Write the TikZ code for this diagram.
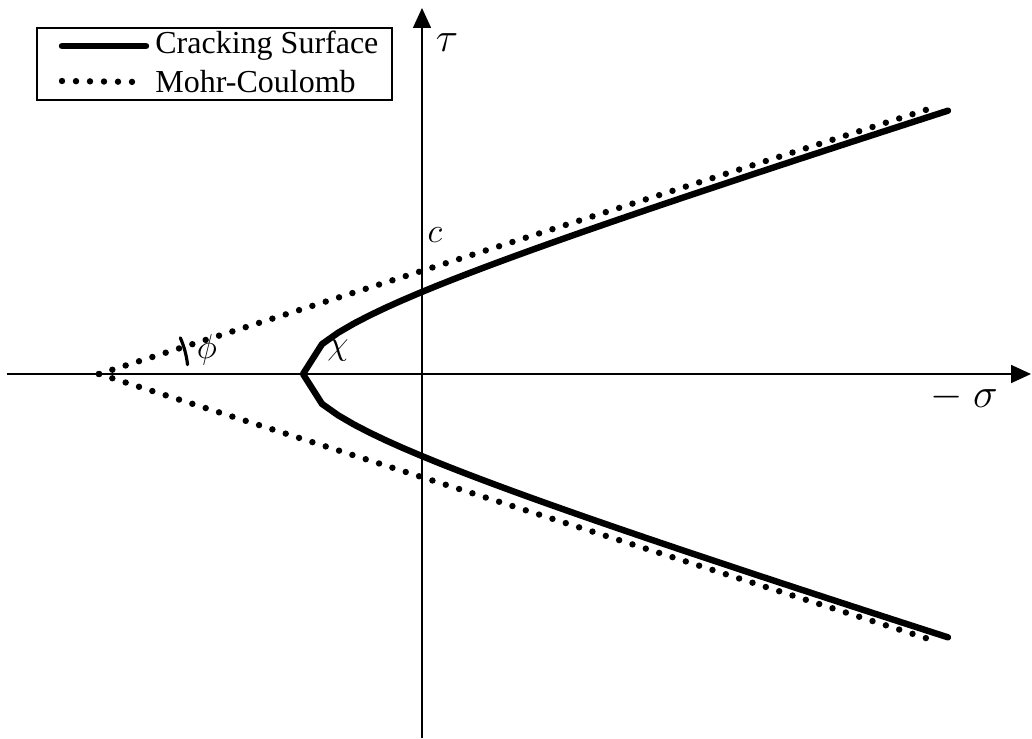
\documentclass[tikz,border=0pt]{standalone}
\usepackage{fontspec}
\setmainfont{Liberation Serif}
\usetikzlibrary{arrows.meta, positioning, calc}

\begin{document}
\begin{tikzpicture}[
  x=0.5pt, y=-0.5pt,
  font=\fontsize{16}{19}\selectfont,
  axis/.style={line width=0.8pt, -{Triangle[length=10pt, width=9pt]}},
  crack/.style={line width=3.2pt, line join=round, line cap=round},
  mohr/.style={line width=3.2pt, line cap=round, dash pattern=on 0pt off 7pt},
  biglab/.style={font=\fontsize{21}{25}\selectfont, inner sep=0pt},
  lab/.style={font=\fontsize{17}{20}\selectfont, inner sep=0pt}
]
  \useasboundingbox (0,0) rectangle (1032,738);

  % axes
  \coordinate (xl) at (7,374);
  \coordinate (xr) at (1031,374);
  \coordinate (yb) at (422,738);
  \coordinate (yt) at (422,8);
  \draw[axis] (xl) -- (xr);
  \draw[axis] (yb) -- (yt);
  \node[biglab] (tau) at (447,43) {$\tau$};
  \node[biglab] (sigma) at (964,397) {$-\ \sigma$};

  % Mohr-Coulomb envelope
  \coordinate (apex) at (99,374);
  \coordinate (mcu) at (935,107);
  \coordinate (mcl) at (935,641);
  \foreach \e in {mcu,mcl} {
    \draw[mohr] (apex) -- (\e);
  }
  \draw[line width=1.6pt, line cap=round] (apex) ++(-24:89) arc[start angle=-24, end angle=-6, radius=89];
  \node[lab] (phi) at (207,350) {$\phi$};
  \node[lab] (c) at (435,235) {$c$};

  % cracking surface
  \draw[crack] plot[domain=9.48:3.22, samples=40] ({100*\x}, {374-31.1*sqrt((\x-0.697)^2-5.443)})
    -- (303,374)
    -- plot[domain=3.22:9.48, samples=40] ({100*\x}, {374+31.1*sqrt((\x-0.697)^2-5.443)});
  \node[lab] (chi) at (338,350) {$\chi$};

  % legend
  \draw[line width=0.6pt] (37,28) rectangle (392,100);
  \node[anchor=west, inner sep=1.5pt] (legcrack) at (152,46) {Cracking Surface};
  \node[anchor=west, inner sep=1.5pt] (legmohr) at (152,82) {Mohr-Coulomb};
  \coordinate (lc0) at (62,46);
  \coordinate (lm0) at (62,81);
  \draw[crack] (lc0) -- ([xshift=-3pt]legcrack.west);
  \draw[mohr] (lm0) -- ([xshift=-5pt]legmohr.west);
\end{tikzpicture}
\end{document}
